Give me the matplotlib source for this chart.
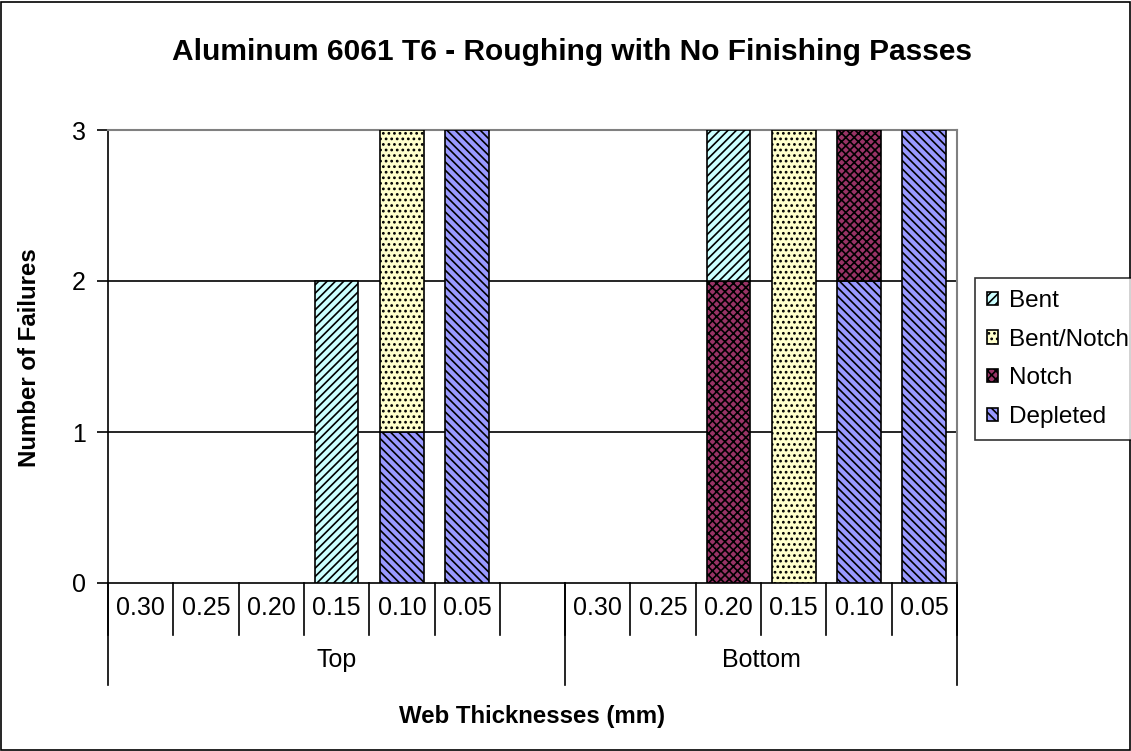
import matplotlib
matplotlib.use("Agg")
import matplotlib.pyplot as plt
from matplotlib.patches import Rectangle
import numpy as np

# ---- data ----
thickness_labels = ["0.30", "0.25", "0.20", "0.15", "0.10", "0.05", "",
                    "0.30", "0.25", "0.20", "0.15", "0.10", "0.05"]
groups = ["Top", "Bottom"]
group_sizes = [7, 6]

depleted = [0, 0, 0, 0, 1, 3, 0, 0, 0, 0, 0, 2, 3]
notch = [0, 0, 0, 0, 0, 0, 0, 0, 0, 2, 0, 1, 0]
bent_notch = [0, 0, 0, 0, 2, 0, 0, 0, 0, 0, 3, 0, 0]
bent = [0, 0, 0, 2, 0, 0, 0, 0, 0, 1, 0, 0, 0]

series_names = ["Depleted", "Notch", "Bent/Notch", "Bent"]
series_values = [depleted, notch, bent_notch, bent]
series_colors = ["#9999FF", "#993366", "#FFFFCC", "#CCFFFF"]
series_hatch = ["\\\\\\\\", "xxxx", "...", "////"]

title = "Aluminum 6061 T6 - Roughing with No Finishing Passes"
ylabel = "Number of Failures"
xlabel = "Web Thicknesses (mm)"

plt.rcParams['font.family'] = ['Liberation Sans', 'DejaVu Sans']
plt.rcParams['hatch.linewidth'] = 1.2

fig = plt.figure(figsize=(11.31, 7.51), dpi=100)
fig.patch.set_facecolor("white")
fig.add_artist(Rectangle((0.001, 0.001), 0.998, 0.997, transform=fig.transFigure,
                         fill=False, edgecolor="black", linewidth=1.2))

L, R, B, T = 108/1131, 957/1131, 1-583/751, 1-130/751
ax = fig.add_axes([L, B, R-L, T-B])

n = len(thickness_labels)
x = np.arange(n)
bottom = np.zeros(n)
handles = {}
for name, vals, col, h in zip(series_names, series_values, series_colors, series_hatch):
    vals = np.array(vals, dtype=float)
    mask = vals > 0
    bars = ax.bar(x[mask], vals[mask], bottom=bottom[mask], width=0.67, color=col,
                  edgecolor="black", hatch=h, linewidth=1.2, zorder=3)
    handles[name] = bars
    bottom += vals

ax.set_xlim(-0.5, n - 0.5)
ax.set_ylim(0, 3)
ax.set_yticks([0, 1, 2, 3])
ax.tick_params(axis='y', labelsize=18, length=8, width=1.2, direction='out', pad=8)
for yv in [1, 2]:
    ax.axhline(yv, color="black", linewidth=1.2, zorder=1)

for s in ["top", "right"]:
    ax.spines[s].set_color("#808080")
    ax.spines[s].set_linewidth(1.5)
for s in ["left", "bottom"]:
    ax.spines[s].set_color("black")
    ax.spines[s].set_linewidth(1.2)

# multi-level category axis
ax.set_xticks([])
trans = ax.get_xaxis_transform()
ax_h_px = (T - B) * 751
short = -52 / ax_h_px
long_ = -102 / ax_h_px
for i, lab in enumerate(thickness_labels):
    ax.text(i, -25 / ax_h_px, lab, transform=trans, ha="center", va="center", fontsize=18)
bounds = np.concatenate([[0], np.cumsum(group_sizes)]) - 0.5
for b in np.arange(-0.5, n):
    ax.plot([b, b], [0, short], transform=trans, color="black", lw=1.2, clip_on=False)
for b in bounds:
    ax.plot([b, b], [0, long_], transform=trans, color="black", lw=1.2, clip_on=False)
for g, lo, hi in zip(groups, bounds[:-1], bounds[1:]):
    ax.text((lo + hi) / 2, -77 / ax_h_px, g, transform=trans, ha="center", va="center", fontsize=18)

fig.text(532/1131, 1 - 717/751, xlabel, ha="center", va="center", fontsize=17.3, fontweight="bold")
fig.text(30/1131, 1 - 358/751, ylabel, ha="center", va="center", rotation=90, fontsize=17.3, fontweight="bold")
fig.text(572/1131, 1 - 52/751, title, ha="center", va="center", fontsize=21.5, fontweight="bold")

leg_order = ["Bent", "Bent/Notch", "Notch", "Depleted"]
leg = fig.legend([handles[k] for k in leg_order], leg_order, loc="upper left",
                 bbox_to_anchor=(975/1131, 1 - 278/751), fontsize=17.5, frameon=True,
                 fancybox=False, edgecolor="black", handlelength=0.45, handleheight=0.45,
                 handletextpad=0.45, borderpad=0.5, labelspacing=0.68, borderaxespad=0)
leg.get_frame().set_linewidth(1.2)

fig.savefig("out.png", dpi=100)
